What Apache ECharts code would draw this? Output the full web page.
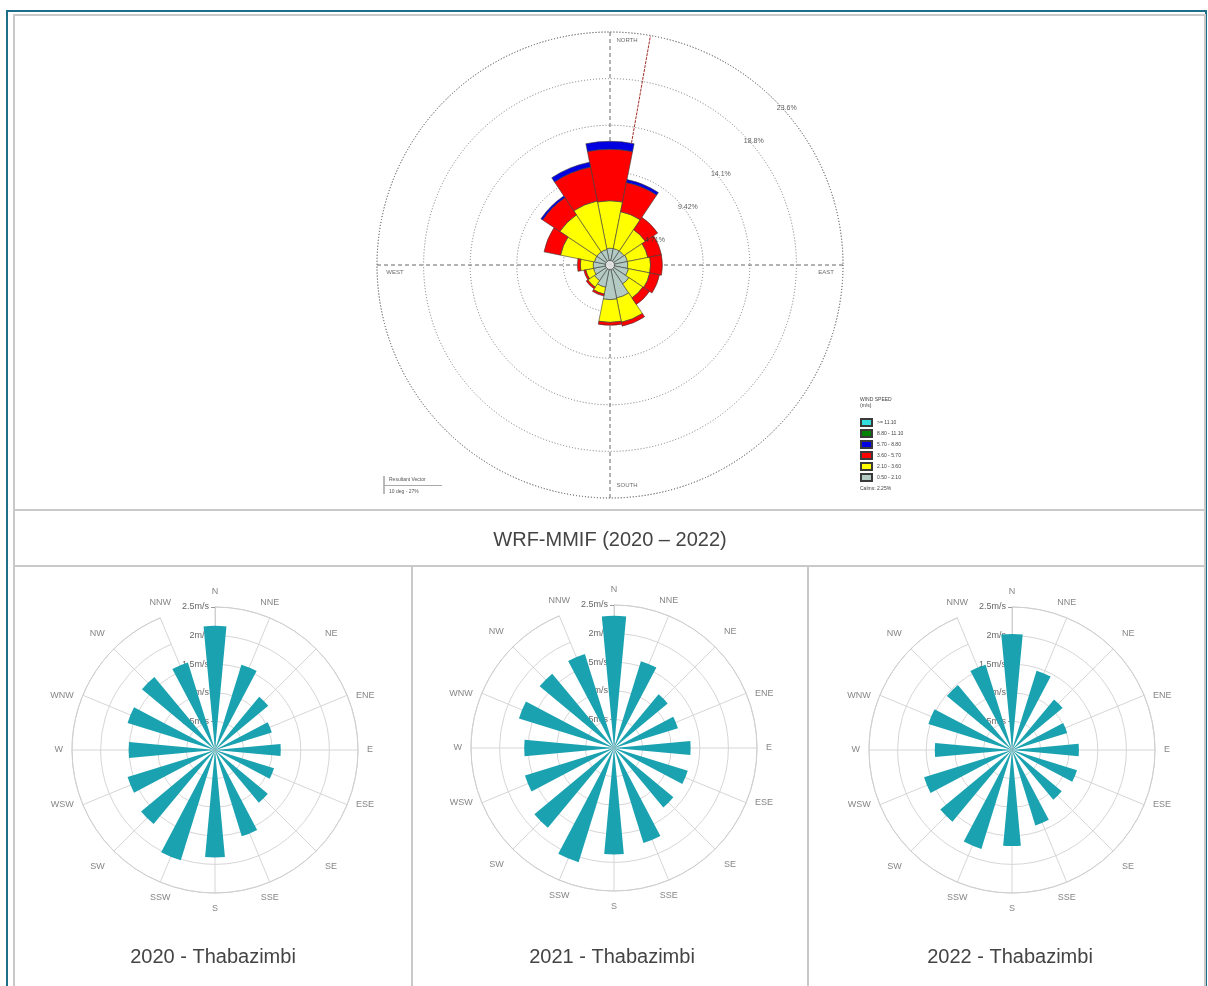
<!DOCTYPE html>
<html>
<head>
<meta charset="utf-8">
<script src="https://cdn.jsdelivr.net/npm/echarts@6/dist/echarts.min.js"></script>
<style>
  html, body { margin: 0; padding: 0; background: #fff; }
  #chart { width: 1208px; height: 986px; }
</style>
</head>
<body>
<div id="chart"></div>
<script>
// Sixteen compass sectors, clockwise from north
const DIRS = ['N', 'NNE', 'NE', 'ENE', 'E', 'ESE', 'SE', 'SSE', 'S', 'SSW', 'SW', 'WSW', 'W', 'WNW', 'NW', 'NNW'];

// WRF-MMIF 2020-2022: frequency (%) of each wind speed class by direction
const SPEED_CLASSES = ['0.50 - 2.10', '2.10 - 3.60', '3.60 - 5.70', '5.70 - 8.80', '8.80 - 11.10', '>= 11.10'];
const FREQ_050_210 = [1.7, 1.7, 1.7, 1.8, 1.8, 1.9, 2.3, 3.4, 3.5, 2.3, 1.9, 1.7, 1.7, 1.6, 1.6, 1.6];
const FREQ_210_360 = [4.8, 3.8, 2.6, 2.1, 2.3, 2.2, 1.7, 2.5, 2.3, 0.7, 0.8, 0.8, 1.3, 3.5, 4.5, 5.0];
const FREQ_360_570 = [5.2, 3.0, 1.5, 1.4, 1.2, 1.0, 0.8, 0.4, 0.3, 0.2, 0.2, 0.2, 0.3, 1.7, 2.1, 3.5];
const FREQ_570_880 = [0.8, 0.3, 0, 0, 0, 0, 0, 0, 0, 0, 0, 0, 0, 0, 0.2, 0.5];
const FREQ_880_1110 = [0, 0, 0, 0, 0, 0, 0, 0, 0, 0, 0, 0, 0, 0, 0, 0];
const FREQ_GE_1110 = [0, 0, 0, 0, 0, 0, 0, 0, 0, 0, 0, 0, 0, 0, 0, 0];
const CALMS = '2.25%';

// Frequency rings and their printed labels
const RING_VALUES = [4.71, 9.42, 14.13, 18.84, 23.55];
const RING_LABELS = ['4.71%', '9.42%', '14.1%', '18.8%', '23.6%'];
const CARDINAL_ANGLES = [0, 90, 180, 270];
const CARDINAL_NAMES = ['NORTH', 'EAST', 'SOUTH', 'WEST'];

// Resultant vector (direction in degrees, drawn out to the outer ring)
const RESULTANT_DIR = 10;
const RESULTANT_TEXT = ['Resultant Vector', '10 deg - 27%'];

// Thabazimbi station: mean wind speed (m/s) by direction
const YEARS = ['2020', '2021', '2022'];
const WS_2020 = [2.17, 1.56, 1.21, 1.04, 1.15, 1.08, 1.20, 1.58, 1.88, 2.02, 1.68, 1.60, 1.51, 1.60, 1.66, 1.60];
const WS_2021 = [2.31, 1.59, 1.22, 1.17, 1.34, 1.35, 1.35, 1.74, 1.86, 2.09, 1.81, 1.63, 1.57, 1.74, 1.69, 1.72];
const WS_2022 = [2.03, 1.45, 1.15, 1.01, 1.17, 1.19, 1.13, 1.38, 1.68, 1.81, 1.63, 1.61, 1.35, 1.53, 1.48, 1.56];
const WS_TICKS = [0.5, 1, 1.5, 2, 2.5];

const FONT = '"Liberation Sans", Arial, sans-serif';
const CLASS_COLORS = ['#b3cbc3', '#ffff00', '#ff0000', '#0000e0', '#008000', '#33dddd'];
const CLASS_DATA = [FREQ_050_210, FREQ_210_360, FREQ_360_570, FREQ_570_880, FREQ_880_1110, FREQ_GE_1110];
const TEAL = '#1aa2b0';

const ROSE_R = 233;
const ROSE_C = [610, 265];
const SMALL = [
  { center: [215, 750], ws: WS_2020 },
  { center: [614, 748], ws: WS_2021 },
  { center: [1012, 750], ws: WS_2022 }
];
const WS_MAX = WS_TICKS[WS_TICKS.length - 1];

const chart = echarts.init(document.getElementById('chart'), null, { renderer: 'canvas' });

const polar = [
  { center: ROSE_C, radius: ROSE_R },   // stacked frequency bars
  { center: ROSE_C, radius: ROSE_R }    // rings, cross lines and labels
].concat(SMALL.map(s => ({ center: s.center, radius: 143 })));

const angleAxis = [
  {
    polarIndex: 0, type: 'category', data: DIRS, boundaryGap: false, startAngle: 90,
    axisLine: { show: false }, axisTick: { show: false }, axisLabel: { show: false }, splitLine: { show: false }
  },
  {
    polarIndex: 1, type: 'value', min: 0, max: 360, interval: 90, startAngle: 90,
    axisLine: { show: true, lineStyle: { color: '#777', width: 1, type: [1, 2] } },
    axisTick: { show: false }, axisLabel: { show: false },
    splitLine: { show: true, lineStyle: { color: '#666', width: 1, type: [4, 3] } }
  }
].concat(SMALL.map((s, i) => ({
  polarIndex: i + 2, type: 'category', data: DIRS, boundaryGap: false, startAngle: 90,
  axisLine: { show: true, lineStyle: { color: '#cfcfcf', width: 1 } },
  axisTick: { show: false },
  axisLabel: { show: false },
  splitLine: { show: true, lineStyle: { color: '#d6d6d6', width: 1 } }
})));

const radiusAxis = [
  {
    polarIndex: 0, type: 'value', min: 0, max: 23.55,
    axisLine: { show: false }, axisTick: { show: false }, axisLabel: { show: false }, splitLine: { show: false }
  },
  {
    polarIndex: 1, type: 'value', min: 0, max: 23.55, interval: 4.71,
    axisLine: { show: false }, axisTick: { show: false }, axisLabel: { show: false },
    splitLine: { show: true, lineStyle: { color: '#777', width: 1, type: [1, 2] } }
  }
].concat(SMALL.map((s, i) => ({
  polarIndex: i + 2, type: 'value', min: 0, max: WS_MAX, interval: WS_TICKS[0],
  axisLine: { show: true, lineStyle: { color: '#cfcfcf' } },
  axisTick: { show: true, length: 4, lineStyle: { color: '#999' } },
  axisLabel: {
    show: true, color: '#666', fontSize: 9, fontFamily: FONT, margin: 6,
    showMinLabel: false, formatter: v => v + 'm/s'
  },
  splitLine: { show: true, lineStyle: { color: '#d6d6d6', width: 1 } }
})));

const series = [];

// Stacked speed classes, innermost class first
SPEED_CLASSES.forEach((name, k) => {
  series.push({
    name, type: 'bar', coordinateSystem: 'polar', polarIndex: 0, stack: 'freq',
    barCategoryGap: '0%', z: 3,
    data: CLASS_DATA[k].map(v => (v > 0 ? v : '-')),
    itemStyle: { color: CLASS_COLORS[k], borderColor: '#3a3a3a', borderWidth: 0.6 },
    emphasis: { disabled: true }
  });
});

// Resultant vector
series.push({
  type: 'line', coordinateSystem: 'polar', polarIndex: 1, z: 1, symbol: 'none',
  data: [[0, RESULTANT_DIR], [RING_VALUES[RING_VALUES.length - 1], RESULTANT_DIR]],
  lineStyle: { color: '#a0302a', width: 1, type: [3, 1] },
  silent: true
});

// Calm circle at the centre
series.push({
  type: 'scatter', coordinateSystem: 'polar', polarIndex: 1, z: 6,
  data: [[0, 0]], symbolSize: 9,
  itemStyle: { color: '#fff', borderColor: '#333', borderWidth: 0.8 },
  silent: true
});

// Ring percentage labels along the north-east diagonal
series.push({
  type: 'scatter', coordinateSystem: 'polar', polarIndex: 1, z: 7,
  symbolSize: 0.1, itemStyle: { color: 'transparent' }, silent: true,
  data: RING_VALUES.map((v, i) => ({ value: [v, 45], name: RING_LABELS[i] })),
  label: {
    show: true, position: 'right', distance: 0, offset: [2, 8],
    formatter: p => p.name, fontSize: 7, color: '#333', fontFamily: FONT
  }
});

// Cardinal names just inside the outer ring
const CARDINAL_OFFSETS = [[17, 8], [-17, 7], [17, -13], [18, 7]];
series.push({
  type: 'scatter', coordinateSystem: 'polar', polarIndex: 1, z: 7,
  symbolSize: 0.1, itemStyle: { color: 'transparent' }, silent: true,
  data: CARDINAL_ANGLES.map((a, i) => ({
    value: [RING_VALUES[RING_VALUES.length - 1], a], name: CARDINAL_NAMES[i],
    label: { offset: CARDINAL_OFFSETS[i] }
  })),
  label: {
    show: true, position: 'inside', formatter: p => p.name,
    fontSize: 6, color: '#444', fontFamily: FONT
  }
});

// Direction name placement just outside the outer ring of a small rose
function dirLabel(i) {
  const a = i * 22.5 * Math.PI / 180;
  const sx = Math.sin(a), cy = -Math.cos(a);
  const align = Math.abs(sx) < 0.5 ? 'center' : (sx > 0 ? 'left' : 'right');
  const vAlign = Math.abs(cy) < 0.5 ? 'middle' : (cy > 0 ? 'top' : 'bottom');
  const gx = align === 'center' ? 0 : (sx > 0 ? 9 : -9);
  const gy = vAlign === 'middle' ? 0 : (cy > 0 ? 11 : -11);
  return { position: [gx, gy], align, verticalAlign: vAlign };
}

// Mean wind speed roses
SMALL.forEach((s, i) => {
  series.push({
    name: YEARS[i], type: 'bar', coordinateSystem: 'polar', polarIndex: i + 2,
    barCategoryGap: '53%', z: 3,
    data: s.ws,
    itemStyle: { color: TEAL },
    emphasis: { disabled: true }
  });
  series.push({
    type: 'scatter', coordinateSystem: 'polar', polarIndex: i + 2, z: 4,
    symbolSize: 0.1, itemStyle: { color: 'transparent' }, silent: true,
    data: DIRS.map((d, k) => ({ value: [WS_MAX, d], name: d, label: dirLabel(k) })),
    label: { show: true, formatter: p => p.name, fontSize: 9, color: '#666', fontFamily: FONT }
  });
});

const title = [
  {
    text: 'WRF-MMIF (2020 \u2013 2022)', left: 610, top: 530, textAlign: 'center', padding: 0,
    textStyle: { fontSize: 20, fontWeight: 'normal', color: '#444', fontFamily: FONT }
  },
  {
    text: 'WIND SPEED\n(m/s)', left: 860, top: 397, padding: 0,
    textStyle: { fontSize: 5, fontWeight: 'normal', color: '#444', fontFamily: FONT, lineHeight: 6 }
  },
  {
    text: 'Calms: ' + CALMS, left: 860, top: 486, padding: 0,
    textStyle: { fontSize: 5, fontWeight: 'normal', color: '#444', fontFamily: FONT }
  },
  {
    text: RESULTANT_TEXT[0], left: 389, top: 477, padding: 0,
    textStyle: { fontSize: 5, fontWeight: 'normal', color: '#555', fontFamily: FONT }
  },
  {
    text: RESULTANT_TEXT[1], left: 389, top: 489, padding: 0,
    textStyle: { fontSize: 5, fontWeight: 'normal', color: '#555', fontFamily: FONT }
  }
].concat(SMALL.map((s, i) => ({
  text: YEARS[i] + ' - Thabazimbi', left: s.center[0] - 2, top: 947, textAlign: 'center', padding: 0,
  textStyle: { fontSize: 20, fontWeight: 'normal', color: '#444', fontFamily: FONT }
})));

const gray = { stroke: '#c9c9c9', lineWidth: 2 };
const graphic = [
  { type: 'rect', shape: { x: 7, y: 11, width: 1199, height: 990 }, style: { fill: 'none', stroke: '#1d6f88', lineWidth: 2 }, silent: true },
  { type: 'rect', shape: { x: 14, y: 15, width: 1191, height: 980 }, style: { fill: 'none', stroke: '#c9c9c9', lineWidth: 2 }, silent: true },
  { type: 'line', shape: { x1: 14, y1: 510, x2: 1205, y2: 510 }, style: gray, silent: true },
  { type: 'line', shape: { x1: 14, y1: 566, x2: 1205, y2: 566 }, style: gray, silent: true },
  { type: 'line', shape: { x1: 412, y1: 566, x2: 412, y2: 990 }, style: gray, silent: true },
  { type: 'line', shape: { x1: 808, y1: 566, x2: 808, y2: 990 }, style: gray, silent: true },
  // bracket beside the resultant vector note
  { type: 'line', shape: { x1: 384, y1: 476, x2: 384, y2: 494 }, style: { stroke: '#777', lineWidth: 1 }, silent: true },
  { type: 'line', shape: { x1: 384, y1: 485.5, x2: 442, y2: 485.5 }, style: { stroke: '#aaa', lineWidth: 1 }, silent: true }
];

chart.setOption({
  animation: false,
  backgroundColor: '#fff',
  title,
  legend: {
    orient: 'vertical', left: 860, top: 418, padding: 0,
    itemWidth: 11, itemHeight: 7, itemGap: 2, icon: 'rect',
    selectedMode: false,
    data: SPEED_CLASSES.slice().reverse(),
    textStyle: { fontSize: 5, color: '#444', fontFamily: FONT }
  },
  polar,
  angleAxis,
  radiusAxis,
  series,
  graphic
});
</script>
</body>
</html>
